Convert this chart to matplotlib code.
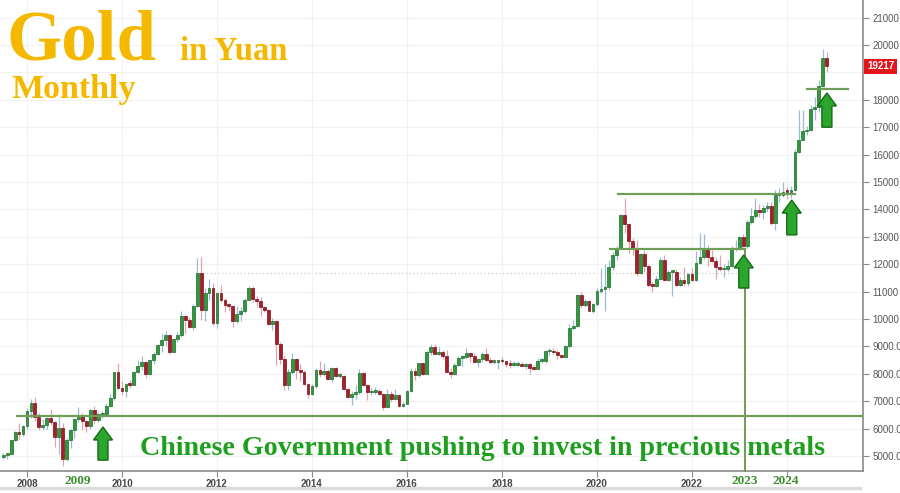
import matplotlib
matplotlib.use("Agg")
import matplotlib.pyplot as plt
import matplotlib.transforms as mtransforms
from matplotlib.patches import Polygon
import numpy as np

# ---------------- data (monthly, CNY per oz), Jul 2007 .. Nov 2024 ----------------
start_year, start_month = 2007, 7
first_open = 4960

closes = [
    5040, 5090, 5580, 5880, 5790, 6090,
    6640, 6920, 6440, 6050, 6140, 6370, 6240, 5690, 6010, 4900, 5570, 5940,
    6340, 6430, 6260, 6090, 6690, 6330, 6520, 6520, 6840, 7100, 8060, 7490,
    7380, 7640, 7600, 8050, 8280, 8430, 8000, 8500, 8740, 9050, 9240, 9410,
    8800, 9260, 9430, 10100, 9950, 9690, 10480, 11670, 10340, 10950, 11120, 9870,
    10960, 10690, 10510, 10480, 9930, 10190, 10290, 10710, 11130, 10730, 10640, 10440,
    10340, 9820, 9920, 9070, 8540, 7580, 8050, 8540, 8130, 8060, 7630, 7270,
    7540, 8140, 7990, 8110, 7810, 8230, 7920, 7920, 7440, 7160, 7260, 7350,
    8030, 7600, 7330, 7340, 7380, 7270, 6800, 7250, 7090, 7220, 6820, 6890,
    7360, 8110, 7950, 8380, 8000, 8780, 8970, 8740, 8780, 8660, 8080, 8000,
    8330, 8580, 8610, 8750, 8640, 8420, 8540, 8720, 8510, 8430, 8430, 8480,
    8460, 8340, 8320, 8320, 8320, 8290, 8340, 8200, 8190, 8470, 8480, 8820,
    8850, 8780, 8670, 8630, 9000, 9680, 9740, 10870, 10520, 10650, 10290, 10560,
    11010, 11080, 11170, 11910, 12330, 12590, 13790, 13470, 12840, 12570, 11690, 12390,
    11940, 11240, 11220, 11450, 12140, 11430, 11720, 11720, 11240, 11410, 11310, 11650,
    11430, 12050, 12280, 12540, 12260, 12110, 11900, 11810, 11830, 11920, 12550, 12590,
    13010, 12660, 13530, 13750, 13960, 13910, 14050, 14140, 13500, 14520, 14540, 14650,
    14640, 14700, 16100, 16550, 16850, 16910, 17670, 17750, 18490, 19540, 19217,
]

highs = [
    5120, 5110, 5600, 5930, 6200, 6120,
    6740, 7080, 7150, 6580, 6340, 6410, 6700, 6280, 6540, 6210, 5670, 6000,
    6400, 6780, 6580, 6310, 6700, 6820, 6600, 6650, 6940, 7250, 8080, 8390,
    7730, 7660, 7760, 8100, 8520, 8640, 8450, 8520, 8800, 9070, 9470, 9560,
    9460, 9280, 9540, 10280, 10150, 10060, 10530, 12240, 12260, 11120, 11470, 11300,
    11000, 11230, 10760, 10600, 10500, 10460, 10440, 10760, 11210, 11190, 10850, 10810,
    10480, 10380, 10020, 9980, 9150, 8660, 8180, 8760, 8580, 8340, 8130, 7680,
    7640, 8200, 8480, 8380, 8170, 8250, 8240, 8070, 7960, 7480, 7360, 7600,
    8160, 8070, 7620, 7500, 7520, 7460, 7290, 7450, 7370, 7460, 7240, 6970,
    7400, 8220, 8230, 8400, 8430, 8840, 9070, 9080, 8970, 8870, 8860, 8210,
    8380, 8640, 8680, 8950, 8770, 8760, 8560, 8780, 8960, 8610, 8530, 8500,
    8620, 8480, 8500, 8460, 8460, 8420, 8390, 8380, 8320, 8580, 8560, 8860,
    8930, 8960, 8860, 8720, 9040, 9800, 9980, 10920, 10970, 10720, 10710, 10580,
    11140, 11870, 12000, 12150, 12440, 12650, 13850, 14420, 13490, 12970, 12900, 12400,
    12520, 11960, 11350, 11560, 12250, 12340, 11800, 11770, 11820, 11530, 11890, 11690,
    11870, 12490, 13130, 13110, 12700, 12520, 12250, 12330, 12020, 12170, 12660, 12900,
    13020, 13110, 13620, 14050, 14400, 14180, 14170, 14280, 14260, 14700, 14780, 15010,
    14830, 14840, 16190, 17610, 17630, 17040, 17820, 18100, 18720, 19850, 19750,
]

lows = [
    4900, 4880, 5060, 5550, 5630, 5720,
    6000, 6380, 6260, 5960, 5940, 5980, 6130, 5330, 5060, 4650, 4810, 5300,
    5650, 6240, 5940, 5880, 5990, 6220, 6240, 6380, 6500, 6800, 7060, 7450,
    7240, 7140, 7480, 7590, 8020, 8140, 7840, 7970, 8370, 8690, 8800, 9030,
    8730, 8780, 9160, 9360, 9480, 9660, 9590, 10420, 9950, 9920, 10680, 9780,
    9680, 10630, 10270, 10300, 9690, 9850, 9930, 10220, 10700, 10620, 10450, 10100,
    10270, 9780, 9600, 8320, 8370, 7410, 7400, 7980, 7800, 7730, 7580, 7120,
    7230, 7500, 7870, 7930, 7770, 7700, 7880, 7850, 7420, 7130, 6870, 7090,
    7270, 7540, 7040, 7220, 7250, 7230, 6690, 6750, 6980, 7050, 6780, 6780,
    6880, 7350, 7780, 7880, 7960, 7990, 8700, 8710, 8680, 8540, 8050, 7860,
    7960, 8300, 8300, 8570, 8440, 8400, 8250, 8420, 8460, 8340, 8370, 8180,
    8400, 8250, 8230, 8270, 8280, 8270, 8180, 8010, 8140, 8180, 8380, 8410,
    8680, 8720, 8540, 8560, 8610, 8960, 9600, 9700, 10400, 10440, 10280, 10220,
    10480, 10950, 10280, 11050, 11790, 12150, 12550, 13130, 12420, 12350, 11560, 11650,
    11720, 11170, 10990, 11150, 11420, 11380, 11400, 10850, 11190, 11220, 11190, 11220,
    11370, 11370, 12000, 12180, 11920, 12080, 11470, 11750, 11520, 11760, 11880, 12480,
    12520, 12640, 12600, 13480, 13700, 13740, 13640, 13890, 13430, 13250, 14280, 14460,
    14380, 14400, 14680, 16050, 16520, 16700, 16850, 17280, 17570, 18450, 19000,
]

last_price = 19217
y_ticks = list(range(5000, 21001, 1000))
x_ticks = [2008, 2010, 2012, 2014, 2016, 2018, 2020, 2022, 2024]
x_tick_labels = ["2008", "2010", "2012", "2014", "2016", "2018", "2020", "2022", ""]

# annotation levels
support_level = 6450
base_level_2020 = 12560
top_level_2020 = 14560
level_2024 = 18380
prior_peak_level = 11670

# ---------------- figure ----------------
W, H = 900, 493
fig = plt.figure(figsize=(W / 100, H / 100), dpi=100)
ax_w_px, ax_h_px = 863, 471
ax = fig.add_axes([0, (H - ax_h_px) / H, ax_w_px / W, ax_h_px / H])

xmin, xmax = 2007.432, 2025.60
ymin, ymax = 4453, 21642
ax.set_xlim(xmin, xmax)
ax.set_ylim(ymin, ymax)
sx = (xmax - xmin) / ax_w_px   # data units per pixel
sy = (ymax - ymin) / ax_h_px

n = len(closes)
xs = np.array([start_year + (start_month - 1 + i) / 12.0 for i in range(n)])
c = np.array(closes, dtype=float)
o = np.concatenate([[first_open], c[:-1]])
hi = np.array(highs, dtype=float)
lo = np.array(lows, dtype=float)
up = c >= o

# grid
ax.set_xticks(x_ticks)
ax.set_yticks(y_ticks)
ax.grid(True, color="#f1f1f1", lw=0.8, zorder=0)

# wicks
ax.vlines(xs[up], lo[up], hi[up], color="#9cbad6", lw=0.9, zorder=2)
ax.vlines(xs[~up], lo[~up], hi[~up], color="#e3a3ad", lw=0.9, zorder=2)

# bodies
bw = 2.8 * sx
bottom = np.minimum(o, c)
height = np.maximum(np.abs(c - o), 1.6 * sy)
ax.bar(xs[up], height[up], bottom=bottom[up], width=bw, color="#2f9a3c",
       edgecolor="#1d6a26", lw=0.5, zorder=3)
ax.bar(xs[~up], height[~up], bottom=bottom[~up], width=bw, color="#a91d2b",
       edgecolor="#76101a", lw=0.5, zorder=3)

# annotation lines
lc = "#6e9e57"
ax.plot([2011.62, 2022.95], [prior_peak_level] * 2, color="#c4c4c4", lw=0.9,
        ls=(0, (1, 2)), zorder=1)
ax.plot([2007.79, xmax], [support_level] * 2, color=lc, lw=1.6, zorder=4)
ax.plot([2020.27, 2023.12], [base_level_2020] * 2, color=lc, lw=1.6, zorder=4)
ax.plot([2020.44, 2024.17], [top_level_2020] * 2, color=lc, lw=1.6, zorder=4)
ax.plot([2024.42, 2025.28], [level_2024] * 2, color=lc, lw=1.6, zorder=4)
ax.plot([2023.12, 2023.12], [base_level_2020, ymin], color=lc, lw=1.4, zorder=4,
        clip_on=False)


def up_arrow(xc, tip, base):
    hw, sw, hh = 9.5 * sx, 5.0 * sx, 13 * sy
    pts = [(xc, tip), (xc + hw, tip - hh), (xc + sw, tip - hh), (xc + sw, base),
           (xc - sw, base), (xc - sw, tip - hh), (xc - hw, tip - hh)]
    ax.add_patch(Polygon(pts, closed=True, facecolor="#2aa62a",
                         edgecolor="#17691a", lw=1.0, zorder=6))


up_arrow(2009.60, 6060, 4850)
up_arrow(2023.09, 12340, 11130)
up_arrow(2024.10, 14340, 13070)
up_arrow(2024.84, 18250, 17000)

# axes styling
for s in ["top", "left"]:
    ax.spines[s].set_visible(False)
ax.spines["right"].set_color("#8a8a8a")
ax.spines["bottom"].set_color("#8a8a8a")
ax.spines["right"].set_linewidth(1.2)
ax.spines["bottom"].set_linewidth(1.2)
ax.yaxis.tick_right()
# the 19000 label sits under the last-price box in the reference
ytl = []
for v in y_ticks:
    if v == 19000:
        ytl.append("")
    elif v >= 10000:
        ytl.append(f"{v}")
    else:
        ytl.append(f"{v}.00")
ax.set_yticklabels(ytl, fontsize=7, color="#555555", family="Liberation Sans")
ax.set_xticklabels(x_tick_labels, fontsize=7, color="#444444",
                   family="Liberation Sans", fontweight="bold")
ax.tick_params(axis="y", length=4, pad=3, color="#8a8a8a")
ax.tick_params(axis="x", length=4, pad=2, color="#8a8a8a")
ax.tick_params(axis="x", which="both", top=False)

# last price label
trans = mtransforms.blended_transform_factory(ax.transAxes, ax.transData)
ax.text(1.005, last_price, f"{last_price}", transform=trans, ha="left",
        va="center", fontsize=7, color="white", fontweight="bold",
        family="Liberation Sans", clip_on=False, zorder=10,
        bbox=dict(boxstyle="square,pad=0.3", fc="#e3141c", ec="none"))

# green year labels
for yr, xpix in [("2009", 78), ("2023", 745), ("2024", 786)]:
    fig.text(xpix / W, 1 - 481 / H, yr, ha="center", va="center",
             fontsize=9.5, color="#3a8c2c", fontweight="bold",
             family="Liberation Serif")

# titles
gold = "#f4b800"
fig.text(6 / W, 1 - 60 / H, "Gold", fontsize=51, color=gold, fontweight="bold",
         family="Liberation Serif", va="baseline", ha="left")
fig.text(180 / W, 1 - 60 / H, "in Yuan", fontsize=23.5, color=gold,
         fontweight="bold", family="Liberation Serif", va="baseline", ha="left")
fig.text(11 / W, 1 - 98 / H, "Monthly", fontsize=24.5, color=gold,
         fontweight="bold", family="Liberation Serif", va="baseline", ha="left")
fig.text(140 / W, 1 - 455 / H,
         "Chinese Government pushing to invest in precious metals",
         fontsize=20.2, color="#1ea01e", fontweight="bold",
         family="Liberation Serif", va="baseline", ha="left", zorder=8)

# bottom light bar
fig.add_artist(plt.Line2D([0, 860 / W], [1 - 488 / H] * 2, color="#dcdcdc",
                          lw=2.5, transform=fig.transFigure))

fig.savefig("out.png", dpi=100)
